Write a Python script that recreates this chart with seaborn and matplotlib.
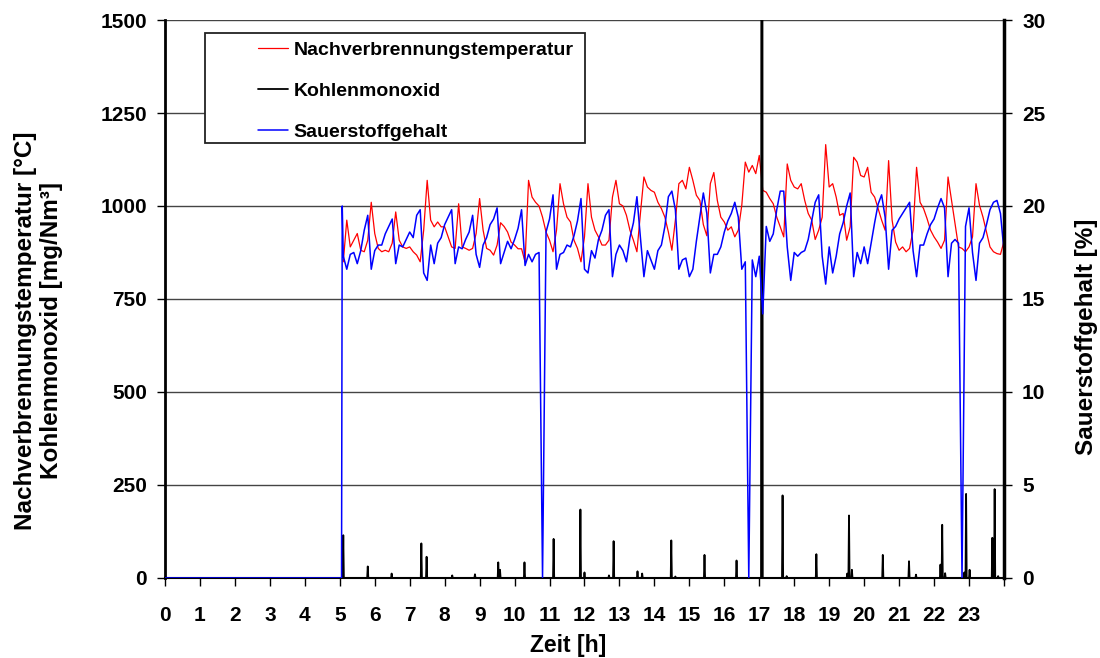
import numpy as np
import pandas as pd
import seaborn as sns
import matplotlib.pyplot as plt
from matplotlib.patches import Rectangle

sns.set_style("white")
plt.rcParams['font.family'] = ['Liberation Sans', 'DejaVu Sans']
plt.rcParams['font.weight'] = 'bold'
plt.rcParams['text.color'] = 'black'
plt.rcParams['axes.labelcolor'] = 'black'
plt.rcParams['xtick.color'] = 'black'
plt.rcParams['ytick.color'] = 'black'

# time grid of the red / blue series (every 0.1 h from 5.1 to 24.0)
hours = np.round(np.arange(51, 241) / 10, 1)

# Nachverbrennungstemperatur [°C]
temperature = [
    850, 962, 890, 908, 926, 881, 877, 908, 1010, 926,
    886, 877, 881, 877, 900, 984, 908, 890, 886, 890,
    877, 868, 850, 935, 1069, 962, 944, 957, 944, 944,
    917, 890, 886, 1006, 890, 886, 881, 886, 926, 1020,
    935, 886, 881, 868, 895, 955, 945, 930, 903, 895,
    885, 885, 850, 1069, 1024, 1010, 1000, 970, 930, 908,
    877, 935, 1060, 1006, 970, 957, 908, 886, 850, 917,
    1060, 970, 935, 917, 895, 895, 908, 1024, 1069, 1006,
    1000, 975, 935, 908, 877, 980, 1078, 1051, 1042, 1037,
    1010, 993, 970, 930, 881, 962, 1060, 1069, 1046, 1104,
    1069, 1029, 1015, 950, 920, 1060, 1090, 1015, 970, 957,
    935, 944, 917, 935, 1002, 1118, 1091, 1109, 1087, 1136,
    1042, 1037, 1020, 1006, 970, 944, 917, 1113, 1069, 1051,
    1046, 1060, 1015, 980, 962, 910, 935, 970, 1165, 1051,
    1060, 1024, 975, 980, 908, 944, 1131, 1118, 1082, 1078,
    1104, 1037, 1024, 993, 962, 935, 1122, 962, 903, 881,
    890, 877, 886, 935, 1104, 1010, 993, 966, 935, 917,
    903, 886, 908, 1078, 1015, 953, 890, 886, 877, 890,
    917, 1060, 1002, 970, 930, 890, 877, 872, 870, 905,
]

# Sauerstoffgehalt [%]
oxygen = [
    17.3, 16.6, 17.4, 17.5, 16.9, 17.6, 18.7, 19.5, 16.6, 17.6,
    17.9, 17.9, 18.5, 18.9, 19.3, 16.9, 17.9, 17.8, 18.2, 18.6,
    18.3, 19.5, 19.8, 16.4, 16.0, 17.9, 16.9, 18.0, 18.3, 19.0,
    19.4, 19.8, 16.9, 17.8, 17.7, 18.2, 18.6, 19.5, 17.4, 16.7,
    17.9, 18.3, 19.0, 19.3, 19.9, 16.9, 17.5, 18.1, 17.7, 18.2,
    18.8, 19.8, 16.8, 17.4, 17.0, 17.4, 17.5, 0.0, 18.6, 19.3,
    20.6, 16.6, 17.4, 17.5, 17.9, 17.8, 18.4, 19.2, 20.4, 16.6,
    16.4, 17.6, 17.2, 18.2, 18.7, 19.5, 19.8, 16.2, 17.4, 17.9,
    17.6, 17.0, 18.3, 19.1, 20.5, 18.3, 16.2, 17.6, 17.1, 16.6,
    17.6, 17.9, 18.9, 20.5, 20.8, 19.8, 16.6, 17.1, 17.2, 16.2,
    16.6, 18.1, 19.4, 20.7, 19.6, 16.4, 17.4, 17.4, 17.8, 18.6,
    19.2, 19.6, 20.2, 19.4, 16.6, 17.0, 0.0, 17.1, 16.2, 17.3,
    14.2, 18.9, 18.1, 18.5, 19.8, 20.8, 20.8, 17.8, 16.0, 17.5,
    17.3, 17.5, 17.6, 18.2, 19.2, 20.2, 20.6, 17.3, 15.8, 17.8,
    16.4, 17.3, 18.5, 19.1, 20.0, 20.7, 16.2, 17.5, 16.9, 17.8,
    16.9, 18.0, 19.1, 20.1, 20.6, 19.4, 16.6, 18.7, 18.9, 19.3,
    19.6, 19.9, 20.2, 17.6, 16.2, 17.9, 17.9, 18.5, 19.0, 19.3,
    19.9, 20.4, 19.9, 16.2, 18.0, 18.2, 18.0, 0.0, 18.9, 19.9,
    17.5, 16.0, 18.0, 18.3, 19.0, 19.8, 20.2, 20.3, 19.6, 17.6,
]
# oxygen before the plant started
o2_start_hours = [0.0, 5.05, 5.07]
o2_start_values = [0.0, 0.0, 20.0]

# Kohlenmonoxid peaks [mg/Nm3], zero elsewhere (minute data)
co_hours = [5.10, 5.80, 6.48, 7.34, 7.49, 8.21, 8.86, 9.54, 9.58, 10.29,
            11.12, 11.89, 12.00, 12.70, 12.84, 13.52, 13.65, 14.49, 14.60,
            15.44, 16.35, 17.07, 17.08, 17.66, 17.78, 18.64,
            19.52, 19.57, 19.65, 20.53, 21.29, 21.48, 22.19, 22.23, 22.32,
            22.87, 22.91, 23.02, 23.66, 23.73, 23.84]
co_values = [115, 31, 12, 93, 57, 7, 10, 42, 22, 42,
             105, 184, 15, 7, 99, 18, 12, 101, 4,
             62, 47, 3000, 3000, 222, 5, 64,
             12, 168, 22, 62, 45, 9, 36, 143, 13,
             15, 226, 22, 108, 239, 5]

df_temp = pd.DataFrame({'Zeit': hours, 'Wert': temperature})
df_o2 = pd.DataFrame({'Zeit': np.concatenate([o2_start_hours, hours]),
                      'Wert': np.concatenate([o2_start_values, oxygen])})
minutes = np.arange(0, 24 * 60 + 1)
co = np.zeros(len(minutes))
co[np.round(np.array(co_hours) * 60).astype(int)] = co_values
df_co = pd.DataFrame({'Zeit': minutes / 60, 'Wert': co})

fig, ax = plt.subplots(figsize=(11, 6.58), dpi=100)
fig.subplots_adjust(left=0.15, right=0.9127, top=0.9696, bottom=0.1216)
ax2 = ax.twinx()

sns.lineplot(data=df_temp, x='Zeit', y='Wert', ax=ax, color='#ff0000', lw=0.9, estimator=None)
sns.lineplot(data=df_co, x='Zeit', y='Wert', ax=ax, color='black', lw=1.3, estimator=None)
sns.lineplot(data=df_o2, x='Zeit', y='Wert', ax=ax2, color='#0000ff', lw=1.1, estimator=None)

ax.set_xlim(0, 24)
ax.set_ylim(0, 1500)
ax2.set_ylim(0, 30)
ax.set_xticks(range(25))
ax.set_xticklabels([str(i) for i in range(24)] + [''])
ax.set_yticks(range(0, 1501, 250))
ax2.set_yticks(range(0, 31, 5))
ax.yaxis.grid(True, color='#444444', lw=1.0)
ax.xaxis.grid(False)
ax2.grid(False)

ax.tick_params(axis='x', bottom=True, direction='out', length=6, width=1, pad=14, labelsize=15)
ax.tick_params(axis='y', left=True, direction='out', length=6, width=1, pad=7, labelsize=15)
ax2.tick_params(axis='y', right=True, direction='out', length=6, width=1, pad=7, labelsize=15)
for lab in ax.get_xticklabels() + ax.get_yticklabels() + ax2.get_yticklabels():
    lab.set_fontweight('bold')

ax.spines['top'].set_visible(False)
for side in ['top', 'left', 'bottom']:
    ax2.spines[side].set_visible(False)
ax.spines['left'].set_linewidth(2)
ax.spines['left'].set_color('black')
ax.spines['bottom'].set_linewidth(1.5)
ax.spines['bottom'].set_color('black')
ax2.spines['right'].set_linewidth(2.5)
ax2.spines['right'].set_color('black')

ax.set_xlabel('Zeit [h]', fontsize=16.5, fontweight='bold')
ax.xaxis.set_label_coords(0.48, -0.1)
ax.set_ylabel('Nachverbrennungstemperatur [°C]\nKohlenmonoxid [mg/Nm³]', fontsize=17.5,
              fontweight='bold', multialignment='center', linespacing=1.12)
ax.yaxis.set_label_coords(-0.122, 0.443)
ax2.set_ylabel('Sauerstoffgehalt [%]', fontsize=17.5, fontweight='bold')
ax2.yaxis.set_label_coords(1.085, 0.432)

# legend box
ax2.add_patch(Rectangle((0.0477, 0.7796), 0.453, 0.197, transform=ax2.transAxes,
                        facecolor='white', edgecolor='#222222', lw=1.3, zorder=5))
leg = ax2.legend([ax.lines[0], ax.lines[1], ax2.lines[0]],
                 ['Nachverbrennungstemperatur', 'Kohlenmonoxid', 'Sauerstoffgehalt'],
                 loc='upper left', bbox_to_anchor=(0.099, 0.979), frameon=False,
                 borderpad=0, handlelength=1.55, handletextpad=0.3, labelspacing=1.2,
                 prop={'weight': 'bold', 'size': 14})
leg.set_zorder(6)

plt.savefig('out.png', dpi=100)
